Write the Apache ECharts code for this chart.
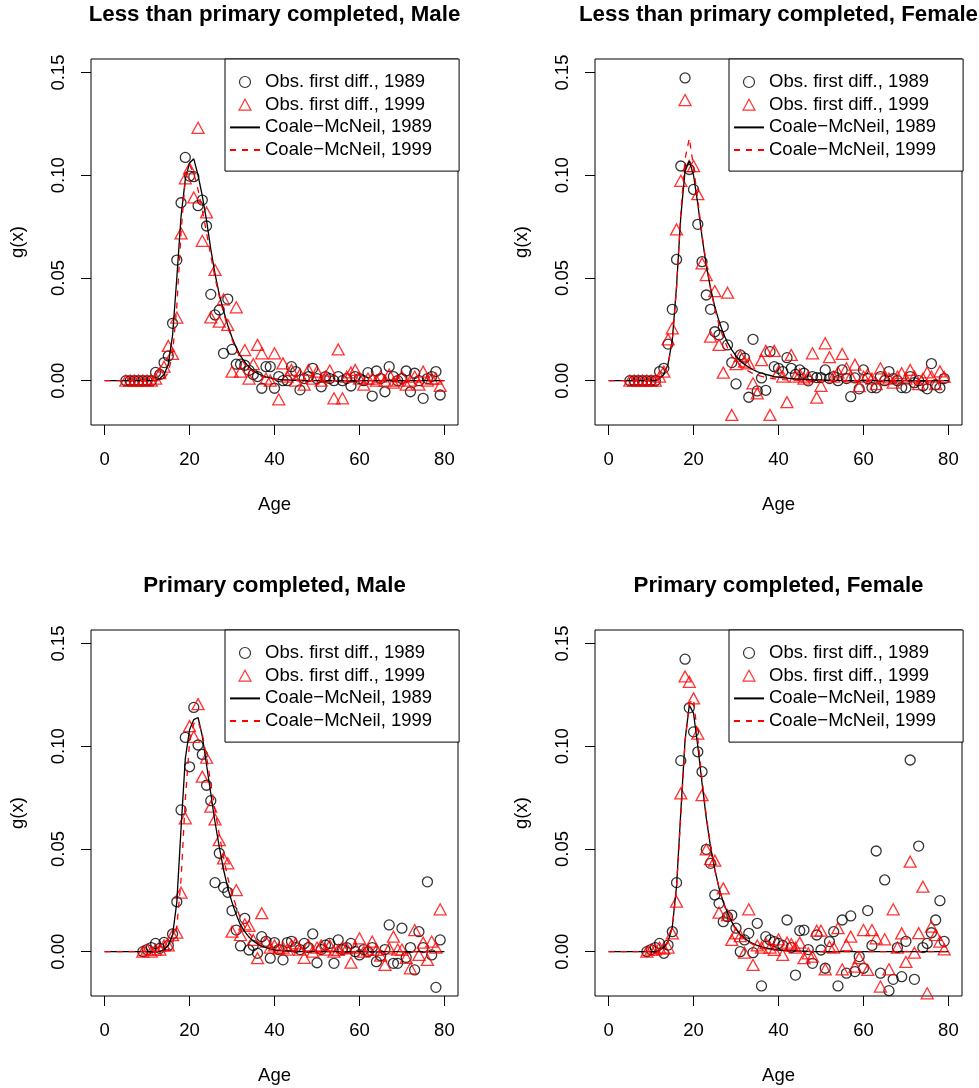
<!DOCTYPE html>
<html><head><meta charset="utf-8">
<script src="https://cdn.jsdelivr.net/npm/echarts@6/dist/echarts.min.js"></script>
<style>html,body{margin:0;padding:0;background:#fff}#c{width:979px;height:1088px}</style>
</head><body><div id="c"></div>
<script>
// ---------------- DATA ----------------
const panelTitles = ["Less than primary completed, Male", "Less than primary completed, Female",
                     "Primary completed, Male", "Primary completed, Female"];
const seriesNames = ["Obs. first diff., 1989", "Obs. first diff., 1999", "Coale\u2212McNeil, 1989", "Coale\u2212McNeil, 1999"];
const xTicks = [0, 20, 40, 60, 80];
const yTicks = [0, 0.05, 0.10, 0.15];
const xLabel = "Age";
const yLabel = "g(x)";

const obsAgesTop = [5,6,7,8,9,10,11,12,13,14,15,16,17,18,19,20,21,22,23,24,25,26,27,28,29,30,31,32,33,34,35,36,37,38,39,40,41,42,43,44,45,46,47,48,49,50,51,52,53,54,55,56,57,58,59,60,61,62,63,64,65,66,67,68,69,70,71,72,73,74,75,76,77,78,79];
const obsAgesBottom = [9,10,11,12,13,14,15,16,17,18,19,20,21,22,23,24,25,26,27,28,29,30,31,32,33,34,35,36,37,38,39,40,41,42,43,44,45,46,47,48,49,50,51,52,53,54,55,56,57,58,59,60,61,62,63,64,65,66,67,68,69,70,71,72,73,74,75,76,77,78,79];
const curveAges = [0,1,2,3,4,5,6,7,8,9,10,11,12,13,14,15,16,17,18,19,20,21,22,23,24,25,26,27,28,29,30,31,32,33,34,35,36,37,38,39,40,41,42,43,44,45,46,47,48,49,50,51,52,53,54,55,56,57,58,59,60,61,62,63,64,65,66,67,68,69,70,71,72,73,74,75,76,77,78,79,80];

// Less than primary, Male
const lpMaleObs1989 = [0,0,0,0,0,0,0,
  0.004,0.003,0.0088,0.012,0.0279,0.0587,0.0866,0.1087,
  0.0996,0.0993,0.0852,0.0879,0.0753,0.042,0.032,0.0344,0.0133,0.0397,
  0.0152,0.008,0.008,0.0075,0.005,0.003,0.002,-0.0037,0.0068,0.0068,
  -0.0037,0.002,0.0,0.0,0.0068,0.0044,-0.0045,0.001,0.002,0.006,
  0.001,-0.003,0.002,0.001,0.0,0.002,0.0,0.001,-0.0026,0.002,
  0.001,0.0,0.0039,-0.0075,0.0047,0.001,-0.0054,0.0068,0.002,0.0,
  0.001,0.0047,-0.0054,0.0036,0.0,-0.0086,0.001,0.002,0.0044,-0.007];
const lpMaleObs1999 = [0,0,0,0,0,0,0,
  0.001,0.0036,0.0068,0.0169,0.013,0.0307,0.0717,0.0985,
  0.1033,0.0892,0.1231,0.0681,0.0819,0.0308,0.0539,0.0287,0.0396,0.0271,
  0.0044,0.0357,0.0044,0.0149,0.001,0.008,0.0174,0.0133,0.001,0.0,
  0.0133,-0.0091,0.0084,0.002,0.0052,0.0,0.003,-0.002,0.0052,0.001,
  0.0044,0.0,0.002,0.0049,-0.0086,0.0152,-0.0086,0.002,0.004,0.0052,
  0.001,-0.002,0.001,0.001,0.0,0.002,0.0,0.003,-0.001,0.0,
  0.002,-0.002,0.0,0.002,-0.002,0.0044,0.0,0.001,0.001,-0.0026];
const lpMaleCM1989 = [0,0,0,0,0,0,0,0,0,0,0,0,0,
  0.001,0.003,0.008,0.022,0.050,0.080,0.098,0.106,
  0.108,0.100,0.090,0.078,0.064,0.052,0.042,0.034,0.027,0.021,
  0.016,0.012,0.009,0.0066,0.0048,0.0035,0.0025,0.0018,0.0013,0.0009,
  0.0006,0.0004,0.0003,0.0002,0.0001,0,0,0,0,0,
  0,0,0,0,0,0,0,0,0,0,0,0,0,0,0,0,0,0,0,0,0,0,0,0,0,0,0,0,0,0];
const lpMaleCM1999 = [0,0,0,0,0,0,0,0,0,0,0,0,0,0,
  0.001,0.004,0.013,0.036,0.072,0.098,0.105,
  0.101,0.093,0.083,0.072,0.061,0.050,0.041,0.033,0.026,0.020,
  0.015,0.011,0.008,0.006,0.0043,0.003,0.0021,0.0015,0.001,0.0007,
  0.0005,0.0003,0.0002,0.0001,0,0,0,0,0,0,
  0,0,0,0,0,0,0,0,0,0,0,0,0,0,0,0,0,0,0,0,0,0,0,0,0,0,0,0,0,0];

// Less than primary, Female
const lpFemaleObs1989 = [0,0,0,0,0,0,0,
  0.0044,0.006,0.0178,0.0347,0.059,0.1045,0.1474,0.1028,
  0.0931,0.0761,0.0579,0.0417,0.0347,0.0238,0.0222,0.0263,0.0174,0.0088,
  -0.0016,0.0125,0.011,-0.0081,0.0201,-0.005,0.0013,-0.0047,0.0141,0.0068,
  0.006,0.0044,0.0112,0.006,0.003,0.0052,0.0036,-0.0001,0.002,0.0015,
  0.0015,0.0052,0.001,0.002,0.0,0.0052,0.001,-0.0078,0.0013,-0.004,
  0.0052,0.001,-0.0034,-0.0035,0.002,0.0,0.0044,0.001,0.0,-0.0034,
  -0.0035,0.002,-0.001,0.0,-0.0026,-0.004,0.0083,-0.002,-0.0035,0.001];
const lpFemaleObs1999 = [0,0,0,0,0,0,0,
  0.002,0.0044,0.0201,0.0255,0.0736,0.0973,0.1366,0.1045,
  0.1045,0.0908,0.0571,0.0514,0.0214,0.0436,0.0174,0.0039,0.0428,-0.0167,
  0.008,0.012,0.0092,0.0084,-0.0013,-0.0062,0.01,0.0145,-0.0167,0.0145,
  0.0044,0.002,-0.0105,0.0125,0.002,0.003,0.001,0.002,0.0133,-0.0083,
  -0.0025,0.0182,0.0114,0.002,0.004,0.013,0.006,0.002,0.0078,-0.0027,
  0.002,0.003,0.001,-0.0017,0.006,0.002,0.001,-0.001,0.002,0.0036,
  0.001,0.0052,0.002,-0.0017,0.001,0.004,0.002,-0.0017,0.0045,0.0018];
const lpFemaleCM1989 = [0,0,0,0,0,0,0,0,0,0,0,0,
  0.001,0.003,0.008,0.020,0.046,0.080,0.102,0.107,0.100,
  0.086,0.070,0.056,0.045,0.036,0.029,0.023,0.0185,0.015,0.012,
  0.0097,0.0079,0.0065,0.0053,0.0044,0.0036,0.003,0.0025,0.002,0.0017,
  0.0014,0.0012,0.001,0.0008,0.0007,0.0006,0.0005,0.0004,0.0003,0.0003,
  0.0002,0.0002,0.0001,0.0001,0,0,0,0,0,0,
  0,0,0,0,0,0,0,0,0,0,0,0,0,0,0,0,0,0,0,0];
const lpFemaleCM1999 = [0,0,0,0,0,0,0,0,0,0,0,0,
  0.001,0.003,0.008,0.019,0.045,0.082,0.108,0.118,0.104,
  0.088,0.071,0.057,0.045,0.035,0.027,0.021,0.016,0.012,0.0095,
  0.0074,0.0058,0.0045,0.0035,0.0027,0.0021,0.0016,0.0012,0.0009,0.0007,
  0.0005,0.0004,0.0003,0.0002,0.0001,0,0,0,0,0,
  0,0,0,0,0,0,0,0,0,0,0,0,0,0,0,0,0,0,0,0,0,0,0,0,0,0,0,0,0,0];

// Primary completed, Male
const pMaleObs1989 = [0.0,0.001,0.002,0.004,0.0016,0.0045,0.003,0.0086,0.0243,0.069,0.1043,
  0.090,0.1189,0.1006,0.096,0.081,0.0735,0.0336,0.0479,0.0313,0.0289,
  0.020,0.0105,0.0028,0.0162,0.0008,0.003,-0.0008,0.0073,0.005,-0.0032,
  0.0044,0.001,-0.004,0.0044,0.005,0.002,0.001,0.004,0.002,0.0086,
  -0.0054,0.001,0.0032,0.004,-0.0057,0.0057,0.001,0.002,0.004,0.0,
  -0.0016,0.001,0.0,0.002,-0.0049,-0.002,0.001,0.013,-0.0057,-0.0057,
  0.0114,-0.0028,0.002,-0.0089,0.0097,0.002,0.034,-0.0016,-0.0174,0.0057];
const pMaleObs1999 = [0.0,0.001,0.0,0.001,0.001,0.003,0.003,0.008,0.0092,0.0287,0.0649,
  0.1098,0.1046,0.1205,0.0852,0.0944,0.0706,0.0644,0.0543,0.0454,0.043,
  0.0097,0.030,0.0081,0.0133,0.0125,0.0057,-0.0032,0.0187,0.0049,0.002,
  0.003,0.0016,0.002,0.001,0.003,0.004,0.001,-0.003,0.003,0.0,
  0.002,0.003,0.001,0.003,0.0,0.0008,0.002,0.0016,-0.0054,0.002,
  0.0065,0.0,0.001,0.0049,0.0008,-0.002,-0.0065,0.0016,0.0073,0.001,
  0.001,-0.003,-0.0081,0.0105,-0.0016,0.0044,-0.004,0.0049,0.002,0.0206];
const pMaleCM1989 = [0,0,0,0,0,0,0,0,0,0,0,0,0,0,
  0.001,0.003,0.008,0.024,0.060,0.094,0.108,
  0.113,0.114,0.105,0.091,0.077,0.063,0.051,0.040,0.031,0.024,
  0.018,0.013,0.0097,0.0071,0.0052,0.0037,0.0027,0.0019,0.0013,0.0009,
  0.0006,0.0004,0.0003,0.0002,0.0001,0,0,0,0,0,
  0,0,0,0,0,0,0,0,0,0,0,0,0,0,0,0,0,0,0,0,0,0,0,0,0,0,0,0,0,0];
const pMaleCM1999 = [0,0,0,0,0,0,0,0,0,0,0,0,0,0,0,
  0.001,0.004,0.012,0.035,0.074,0.102,
  0.111,0.112,0.106,0.095,0.082,0.069,0.057,0.046,0.036,0.028,
  0.022,0.016,0.012,0.009,0.0066,0.0048,0.0035,0.0025,0.0018,0.0013,
  0.0009,0.0006,0.0004,0.0003,0.0002,0.0001,0,0,0,0,
  0,0,0,0,0,0,0,0,0,0,0,0,0,0,0,0,0,0,0,0,0,0,0,0,0,0,0,0,0,0];

// Primary completed, Female
const pFemaleObs1989 = [0.0,0.001,0.002,0.004,-0.0008,0.0032,0.0097,0.0336,0.093,0.1424,0.1187,
  0.107,0.0973,0.0876,0.0498,0.043,0.0276,0.0235,0.0146,0.017,0.0178,
  0.0114,0.0,0.0057,0.0089,-0.0005,0.0138,-0.0167,0.0073,0.0057,0.0049,
  0.004,0.003,0.0154,0.002,-0.0114,0.0102,0.0105,0.001,-0.0057,0.0081,
  0.0008,-0.0081,0.0049,0.0097,-0.0167,0.0154,-0.0105,0.0174,-0.0097,-0.0024,
  -0.0081,0.020,0.003,0.049,-0.0105,0.0349,-0.019,-0.0135,0.002,-0.0122,
  0.005,0.0933,-0.0135,0.0514,0.002,0.004,0.0092,0.0154,0.0248,0.005];
const pFemaleObs1999 = [0.0,0.001,0.001,0.002,0.0015,0.002,0.0089,0.0243,0.077,0.134,0.1314,
  0.1233,0.1062,0.0762,0.0498,0.045,0.0443,0.019,0.0308,0.0178,0.0057,
  0.0089,0.0076,-0.0005,0.0206,-0.0065,0.003,0.002,0.004,0.002,0.0008,
  0.006,-0.0016,0.0044,0.0037,0.002,0.0044,-0.0032,-0.0008,-0.0024,0.0102,
  0.0102,-0.0086,0.0024,0.002,0.0114,-0.0086,0.0032,0.0073,-0.0073,-0.0032,
  0.0105,-0.0089,0.0105,0.0065,-0.017,0.006,-0.0086,0.0206,0.002,0.0089,
  -0.005,0.0438,-0.0005,0.009,0.0316,-0.0203,0.0122,0.0081,0.0049,0.0011];
const pFemaleCM1989 = [0,0,0,0,0,0,0,0,0,0,0,0,
  0.001,0.002,0.005,0.012,0.032,0.068,0.103,0.120,0.116,
  0.100,0.082,0.065,0.051,0.040,0.031,0.024,0.019,0.0145,0.011,
  0.0085,0.0065,0.005,0.0039,0.003,0.0023,0.0018,0.0014,0.0011,0.0008,
  0.0006,0.0005,0.0004,0.0003,0.0002,0.0002,0.0001,0,0,0,
  0,0,0,0,0,0,0,0,0,0,0,0,0,0,0,0,0,0,0,0,0,0,0,0,0,0,0,0,0,0];
const pFemaleCM1999 = [0,0,0,0,0,0,0,0,0,0,0,0,
  0.001,0.002,0.005,0.012,0.031,0.066,0.102,0.121,0.123,
  0.104,0.084,0.066,0.052,0.040,0.031,0.024,0.018,0.014,0.0105,
  0.008,0.006,0.0046,0.0035,0.0027,0.002,0.0015,0.0011,0.0008,0.0006,
  0.0004,0.0003,0.0002,0.0001,0,0,0,0,0,0,
  0,0,0,0,0,0,0,0,0,0,0,0,0,0,0,0,0,0,0,0,0,0,0,0,0,0,0,0,0,0];

// ---------------- LAYOUT / STYLE ----------------
const FONT = "'Liberation Sans', Arial, Helvetica, sans-serif";
const FS = 18.5;
const panelDefs = [
  {title: panelTitles[0], ages: obsAgesTop,    o89: lpMaleObs1989,   o99: lpMaleObs1999,   c89: lpMaleCM1989,   c99: lpMaleCM1999,   left: 91,  top: 59,  titleTop: 4},
  {title: panelTitles[1], ages: obsAgesTop,    o89: lpFemaleObs1989, o99: lpFemaleObs1999, c89: lpFemaleCM1989, c99: lpFemaleCM1999, left: 595, top: 59,  titleTop: 4},
  {title: panelTitles[2], ages: obsAgesBottom, o89: pMaleObs1989,    o99: pMaleObs1999,    c89: pMaleCM1989,    c99: pMaleCM1999,    left: 91,  top: 630, titleTop: 575},
  {title: panelTitles[3], ages: obsAgesBottom, o89: pFemaleObs1989,  o99: pFemaleObs1999,  c89: pFemaleCM1989,  c99: pFemaleCM1999,  left: 595, top: 630, titleTop: 575}
];
const W = 367, H = 366;

const pair = (xs, ys) => xs.map((x, i) => [x, ys[i]]);
const hidden = {color: 'rgba(0,0,0,0)', borderColor: 'rgba(0,0,0,0)', borderWidth: 0};
// legend triangle icon: the invisible move-to points fix the icon box so the triangle keeps its shape
const triangleIcon = 'path://M0,0M30,11M9,11L15,0L21,11Z';

const legendData = [
  {name: seriesNames[0], icon: 'circle', itemStyle: {color: 'rgba(0,0,0,0)', borderColor: '#000', borderWidth: 1.2}},
  {name: seriesNames[1], icon: triangleIcon, itemStyle: {color: 'rgba(0,0,0,0)', borderColor: '#ff0000', borderWidth: 1.2}},
  {name: seriesNames[2], itemStyle: hidden},
  {name: seriesNames[3], itemStyle: hidden}
];

const option = {
  animation: false,
  backgroundColor: '#fff',
  title: [], grid: [], xAxis: [], yAxis: [], legend: [], series: []
};

panelDefs.forEach((p, i) => {
  option.title.push({
    text: p.title, left: p.left + W / 2, top: p.titleTop, textAlign: 'center', padding: 0,
    textStyle: {fontFamily: FONT, fontSize: 22.3, fontWeight: 'bold', color: '#000'}
  });
  option.grid.push({
    left: p.left, top: p.top, width: W, height: H, show: true,
    borderColor: '#000', borderWidth: 1, backgroundColor: 'transparent', containLabel: false
  });
  option.xAxis.push({
    gridIndex: i, type: 'value', min: -3.2, max: 83.2,
    name: xLabel, nameLocation: 'middle', nameGap: 70,
    nameTextStyle: {fontFamily: FONT, fontSize: FS, color: '#000'},
    axisLine: {show: false, onZero: false},
    splitLine: {show: false},
    axisTick: {show: true, inside: false, length: 10, customValues: xTicks, lineStyle: {color: '#000', width: 1}},
    axisLabel: {customValues: xTicks, margin: 25, fontFamily: FONT, fontSize: FS, color: '#000'}
  });
  option.yAxis.push({
    gridIndex: i, type: 'value', min: -0.0216, max: 0.1566,
    name: yLabel, nameLocation: 'middle', nameGap: 64,
    nameTextStyle: {fontFamily: FONT, fontSize: FS, color: '#000'},
    axisLine: {show: false, onZero: false},
    splitLine: {show: false},
    axisTick: {show: true, inside: false, length: 10, customValues: yTicks, lineStyle: {color: '#000', width: 1}},
    axisLabel: {customValues: yTicks, rotate: 90, margin: 23, fontFamily: FONT, fontSize: FS, color: '#000',
      formatter: v => v.toFixed(2)}
  });
  option.legend.push({
    orient: 'vertical', left: p.left + 134, top: p.top,
    padding: [13, 27, 11, 4], itemGap: 2.7, itemWidth: 30, itemHeight: 11,
    borderColor: '#000', borderWidth: 1, borderRadius: 0, backgroundColor: '#fff',
    selectedMode: false,
    textStyle: {fontFamily: FONT, fontSize: FS, color: '#000', lineHeight: 20},
    data: legendData
  });
  option.series.push({
    name: seriesNames[0], type: 'scatter', xAxisIndex: i, yAxisIndex: i,
    symbol: 'circle', symbolSize: 10,
    itemStyle: {color: 'rgba(0,0,0,0)', borderColor: '#000', borderWidth: 1.3},
    data: pair(p.ages, p.o89), z: 2
  });
  option.series.push({
    name: seriesNames[1], type: 'scatter', xAxisIndex: i, yAxisIndex: i,
    symbol: 'triangle', symbolSize: [12, 11],
    itemStyle: {color: 'rgba(0,0,0,0)', borderColor: '#ff0000', borderWidth: 1.3},
    data: pair(p.ages, p.o99), z: 2
  });
  option.series.push({
    name: seriesNames[2], type: 'line', xAxisIndex: i, yAxisIndex: i,
    symbol: 'none', smooth: false,
    itemStyle: {color: '#000'},
    lineStyle: {color: '#000', width: 1.3, type: 'solid'},
    data: pair(curveAges, p.c89), z: 3
  });
  option.series.push({
    name: seriesNames[3], type: 'line', xAxisIndex: i, yAxisIndex: i,
    symbol: 'none', smooth: false,
    itemStyle: {color: '#ff0000'},
    lineStyle: {color: '#ff0000', width: 1.3, type: [6, 6]},
    data: pair(curveAges, p.c99), z: 3
  });
});

const chart = echarts.init(document.getElementById('c'), null, {renderer: 'canvas'});
chart.setOption(option);
</script>
</body></html>
